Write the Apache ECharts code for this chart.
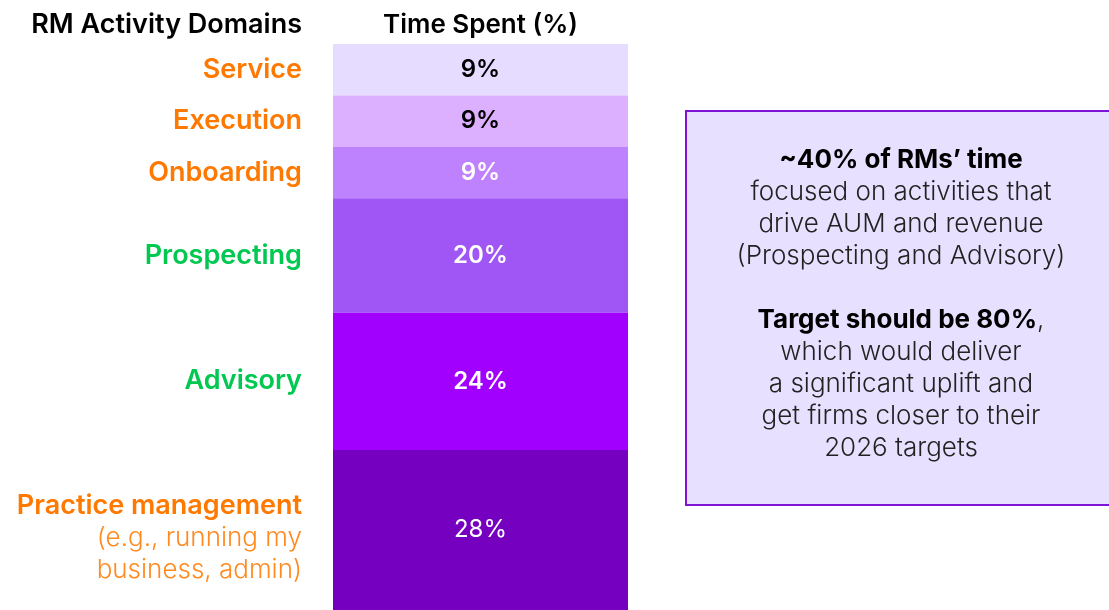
<!DOCTYPE html>
<html>
<head>
<meta charset="utf-8">
<script src="https://cdn.jsdelivr.net/npm/echarts@6/dist/echarts.min.js"></script>
<style>
	html, body { margin: 0; padding: 0; background: #fff; }
	#main { width: 1109px; height: 610px; }
</style>
</head>
<body>
<div id="main"></div>
<script>
// chart data
var domains = ['Service', 'Execution', 'Onboarding', 'Prospecting', 'Advisory', 'Practice management'];
var domainNotes = ['', '', '', '', '', '(e.g., running my\nbusiness, admin)'];
var timeSpent = [9, 9, 9, 20, 24, 28];
var columnName = ['Time Spent (%)'];

// styles
var segmentColors = ['#E6DCFF', '#DCAFFF', '#BE82FF', '#A055F5', '#A100FF', '#7500C0'];
var valueColors = ['#000', '#000', '#fff', '#fff', '#fff', '#fff'];
var nameColors = ['#FF7800', '#FF7800', '#FF7800', '#00C850', '#00C850', '#FF7800'];
var font = 'Inter, Roboto, sans-serif';

var chart = echarts.init(document.getElementById('main'));

var series = [];
domains.forEach(function (name, i) {
	series.push({
		name: name,
		type: 'bar',
		stack: 'time',
		barWidth: '100%',
		barGap: '-100%',
		itemStyle: { color: segmentColors[i] },
		label: {
			show: true,
			position: 'inside',
			formatter: '{c}%',
			color: valueColors[i],
			fontFamily: font,
			fontSize: 24,
			fontWeight: i == 5 ? 400 : 600
		},
		data: [timeSpent[i]]
	});
});
// invisible twin stack, carries the domain names on the left
domains.forEach(function (name, i) {
	var text = '{n|' + name + '}';
	if (domainNotes[i]) {
		text += '\n' + domainNotes[i].split('\n').map(function (s) { return '{s|' + s + '}'; }).join('\n');
	}
	series.push({
		name: name + ' label',
		type: 'bar',
		stack: 'names',
		barWidth: '100%',
		barGap: '-100%',
		itemStyle: { color: 'transparent' },
		silent: true,
		label: {
			show: true,
			position: 'left',
			distance: 31,
			offset: [0, domainNotes[i] ? 8 : 0],
			formatter: text,
			align: 'right',
			rich: {
				n: { color: nameColors[i], fontFamily: font, fontSize: 27, fontWeight: 600, align: 'right', lineHeight: 32 },
				s: { color: '#FF8A1F', fontFamily: font, fontSize: 26, fontWeight: 300, align: 'right', lineHeight: 32 }
			}
		},
		data: [timeSpent[i]]
	});
});

var option = {
	animation: false,
	grid: { left: 333, top: 44, width: 295, bottom: 0, containLabel: false },
	xAxis: {
		type: 'category',
		position: 'top',
		data: columnName,
		axisLine: { show: false },
		axisTick: { show: false },
		axisLabel: { margin: 6, color: '#000', fontFamily: font, fontSize: 26, fontWeight: 600 }
	},
	yAxis: {
		type: 'value',
		inverse: true,
		min: 0,
		max: 99,
		show: false
	},
	graphic: [
		{
			type: 'text',
			x: 302,
			y: 25,
			style: {
				text: 'RM Activity Domains',
				fill: '#000',
				font: '600 27px ' + font,
				textAlign: 'right',
				textVerticalAlign: 'middle'
			}
		},
		{
			type: 'rect',
			shape: { x: 686, y: 111, width: 440, height: 394 },
			style: { fill: '#E8E0FF', stroke: '#7E12D6', lineWidth: 2 }
		},
		{
			type: 'text',
			x: 901,
			y: 144,
			style: {
				text: '{b|~40% of RMs\u2019 time}\n' +
					'{r|focused on activities that}\n' +
					'{r|drive AUM and revenue}\n' +
					'{r|(Prospecting and Advisory)}\n' +
					'{r| }\n' +
					'{b|Target should be 80%}{r|,}\n' +
					'{r|which would deliver}\n' +
					'{r|a significant uplift and}\n' +
					'{r|get firms closer to their}\n' +
					'{r|2026 targets}',
				align: 'center',
				verticalAlign: 'top',
				rich: {
					b: { fill: '#000', fontFamily: font, fontSize: 26, fontWeight: 700, lineHeight: 32, align: 'center' },
					r: { fill: '#222', fontFamily: font, fontSize: 26, fontWeight: 300, lineHeight: 32, align: 'center' }
				}
			}
		}
	],
	series: series
};

chart.setOption(option);
</script>
</body>
</html>
